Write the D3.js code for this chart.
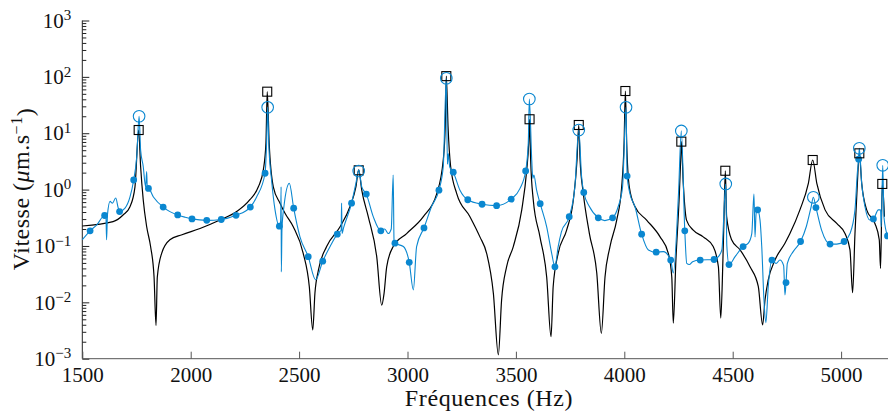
<!DOCTYPE html>
<html><head><meta charset="utf-8">
<script src="https://cdn.jsdelivr.net/npm/d3@7/dist/d3.min.js"></script>
<style>
html,body{margin:0;padding:0;background:#fff;}
svg{display:block;}
</style></head>
<body>
<svg id="chart" width="888" height="414" font-family="Liberation Serif"></svg>
<script>
// ---- Model (black) curve ----
const modelFreq = [1500,1642,1688,1720,1743,1760,1769,1781,1797,1815,1831,1840,1846,1866,1904,1960,2043,2135,2212,2273,2312,2335,2347,2353,2362,2381,2412,2435,2473,2519,2547,2563,2573,2589,2627,2689,2735,2762,2775,2789,2819,2858,2881,2892,2904,2934,2996,3073,3135,3165,3174,3179,3187,3199,3227,3288,3334,3365,3396,3419,3434,3457,3488,3527,3550,3559,3563,3568,3580,3611,3642,3662,3672,3695,3734,3765,3782,3790,3796,3811,3839,3873,3894,3911,3934,3965,3988,3999,4005,4011,4023,4049,4103,4165,4203,4219,4226,4238,4254,4260,4263,4272,4287,4318,4364,4410,4434,4445,4454,4460,4466,4472,4495,4534,4580,4618,4638,4649,4664,4695,4741,4764,4810,4849,4869,4888,4926,4980,5018,5041,5053,5064,5075,5084,5095,5118,5156,5176,5182,5190,5200];
const modelVal = [0.226,0.270,0.354,0.498,1.12,11.4,2.57,0.661,0.219,0.0977,0.0282,0.00389,0.0282,0.0741,0.129,0.158,0.204,0.288,0.407,0.661,1.12,2.24,6.61,54.6,6.61,1.12,0.575,0.380,0.219,0.0741,0.0191,0.00324,0.0145,0.0372,0.0977,0.219,0.501,1.12,2.24,0.977,0.331,0.0646,0.00891,0.0145,0.0427,0.0977,0.166,0.331,0.851,3.39,13.2,103,13.2,2.57,0.851,0.331,0.145,0.0741,0.0145,0.00117,0.011,0.0427,0.0977,0.437,2.24,6.61,17.7,3.39,0.661,0.145,0.0282,0.00245,0.0191,0.0741,0.191,0.661,3.39,14.0,3.39,0.851,0.166,0.0331,0.00282,0.0282,0.0977,0.288,1.12,6.61,56.1,6.61,1.12,0.501,0.288,0.145,0.0741,0.0282,0.00427,0.0562,0.851,3.39,7.08,1.29,0.288,0.191,0.145,0.0977,0.0427,0.00525,0.0427,0.331,2.16,0.331,0.129,0.0851,0.0427,0.0191,0.00398,0.011,0.0251,0.0562,0.112,0.166,0.437,1.29,3.35,1.29,0.437,0.251,0.166,0.0851,0.0148,0.166,1.29,4.41,1.29,0.437,0.251,0.129,0.0398,1.26,0.331];

// ---- Measured (blue) curve ----
const measFreq = [1500,1536,1566,1603,1609,1612,1616,1628,1639,1654,1666,1672,1697,1720,1737,1751,1762,1769,1781,1792,1797,1800,1805,1828,1873,1904,1940,1974,2006,2074,2141,2209,2275,2304,2343,2350,2355,2360,2373,2389,2409,2415,2417,2418,2421,2430,2455,2475,2504,2542,2576,2609,2643,2676,2694,2696,2698,2705,2742,2762,2775,2789,2810,2842,2877,2895,2911,2925,2934,2938,2942,2981,3008,3027,3042,3076,3111,3145,3165,3179,3184,3188,3195,3211,3242,3278,3344,3411,3478,3519,3545,3557,3562,3573,3578,3583,3595,3612,3642,3665,3680,3695,3710,3746,3772,3790,3803,3813,3839,3880,3910,3946,3972,3992,4008,4013,4026,4049,4080,4111,4147,4180,4214,4226,4250,4263,4279,4288,4300,4315,4350,4414,4434,4450,4468,4473,4483,4511,4548,4572,4588,4598,4603,4608,4615,4626,4634,4644,4653,4664,4681,4700,4718,4735,4741,4746,4752,4779,4813,4840,4862,4872,4884,4910,4949,4980,5014,5041,5064,5075,5081,5084,5095,5110,5133,5149,5172,5182,5185,5192,5198,5214];
const measVal = [0.129,0.186,0.234,0.347,0.339,0.129,0.355,0.617,0.575,0.708,0.468,0.407,0.468,0.741,1.48,3.80,20.0,5.01,2.57,1.12,2.09,1.0,1.05,0.741,0.49,0.407,0.355,0.324,0.302,0.285,0.295,0.35,0.49,0.741,1.95,6.61,28.8,6.61,1.48,0.437,0.224,0.282,1.12,0.0347,0.2,0.501,1.29,0.468,0.145,0.0646,0.0251,0.0537,0.0977,0.162,0.191,0.575,0.166,0.209,0.575,1.29,2.24,1.12,0.832,0.331,0.186,0.2,0.166,0.2,1.82,0.12,0.112,0.0977,0.0513,0.0166,0.0977,0.209,0.501,0.977,2.57,94.4,2.82,4.37,2.51,2.04,0.977,0.661,0.55,0.519,0.676,1.05,2.14,6.61,40.5,3.39,1.58,1.82,1.0,0.562,0.219,0.0741,0.0427,0.0977,0.178,0.331,1.12,11.4,1.70,0.891,0.501,0.316,0.282,0.316,0.501,1.12,28.8,1.74,0.851,0.501,0.162,0.0851,0.0776,0.0794,0.0562,0.0331,0.851,11.0,0.186,0.049,0.0468,0.0525,0.0562,0.0575,0.0646,0.0851,1.26,0.1,0.0468,0.0646,0.0977,0.112,0.166,0.832,0.145,0.38,0.437,0.288,0.0977,0.0115,0.00437,0.0191,0.0562,0.049,0.0562,0.0447,0.0135,0.0224,0.049,0.0794,0.120,0.224,0.501,0.73,0.479,0.191,0.108,0.108,0.120,0.166,0.437,2.0,3.47,5.4,1.29,0.501,0.288,0.302,0.437,0.437,0.219,2.7,0.316,0.151];

// ---- Measured markers (filled dots) ----
const dotFreq = [1536,1603,1672,1737,1805,1873,1940,2006,2074,2141,2209,2275,2343,2409,2475,2542,2609,2676,2742,2810,2877,2942,3008,3076,3145,3211,3278,3344,3411,3478,3545,3612,3680,3746,3813,3880,3946,4013,4080,4147,4214,4279,4350,4414,4483,4548,4615,4681,4746,4813,4884,4949,5014,5081,5149,5214];
const dotVal = [0.186,0.347,0.407,1.48,1.05,0.49,0.355,0.302,0.285,0.295,0.35,0.49,1.95,0.224,0.468,0.0646,0.0537,0.162,0.575,0.832,0.186,0.112,0.0513,0.209,0.977,2.04,0.661,0.55,0.519,0.676,2.14,0.562,0.0427,0.331,0.891,0.316,0.316,1.74,0.162,0.0776,0.0562,0.186,0.0562,0.0575,0.0468,0.0977,0.437,0.0562,0.0224,0.120,0.479,0.108,0.120,3.47,0.302,0.151];

// ---- Resonance peaks ----
const peakModelFreq = [1760,2353,2775,3179,3563,3790,4005,4263,4466,4869,5084,5190];
const peakModelVal  = [11.4,54.6,2.2,103,17.7,14.0,56.1,7.1,2.16,3.35,4.4,1.26];
const peakMeasFreq  = [1762,2355,2775,3179,3562,3790,4008,4263,4468,4872,5084,5192];
const peakMeasVal   = [20.0,28.8,2.14,94.4,40.5,11.4,28.8,11.0,1.26,0.73,5.4,2.7];

// ---- Ticks ----
const xTickValues = [1500,2000,2500,3000,3500,4000,4500,5000];
const xTickLabels = ["1500","2000","2500","3000","3500","4000","4500","5000"];
const yTickValues = [1e-3,1e-2,1e-1,1e0,1e1,1e2,1e3];
const yTickExps = ["\u22123","\u22122","\u22121","0","1","2","3"];

const FONT = "Liberation Serif";
const svg = d3.select("#chart");
const x = d3.scaleLinear().domain([1500, 5250]).range([82.3, 895.3]);
const y = d3.scaleLog().domain([1e-3, 1e3]).range([358.7, 20.5]);

const blue = "#0a87d0";

// minor y ticks
const minorY = [];
for (let e = -3; e < 3; e++) for (let m = 2; m <= 9; m++) minorY.push(m * Math.pow(10, e));

const gyMinor = svg.append("g").attr("transform", "translate(82.3,0)")
  .call(d3.axisLeft(y).tickValues(minorY).tickSize(-4).tickFormat(""));
gyMinor.select(".domain").remove();
gyMinor.selectAll("line").attr("stroke", "#222");

const gy = svg.append("g").attr("transform", "translate(82.3,0)")
  .call(d3.axisLeft(y).tickValues(yTickValues).tickSize(-7).tickPadding(11).tickFormat(() => ""));
gy.attr("font-family", FONT).attr("font-size", 21);
gy.select(".domain").attr("stroke", "#222").attr("d", "M0," + y(1e-3) + "V" + y(1e3));
gy.selectAll("line").attr("stroke", "#222");
gy.selectAll(".tick text").each(function(d, i) {
  const t = d3.select(this).attr("font-size", 21).attr("font-family", FONT).attr("fill", "#111");
  t.append("tspan").text("10");
  t.append("tspan").attr("dy", "-0.5em").attr("font-size", 15).text(yTickExps[i]);
});

const gx = svg.append("g").attr("transform", "translate(0," + y(1e-3) + ")")
  .call(d3.axisBottom(x).tickValues(xTickValues).tickSize(-7).tickPadding(8).tickFormat((d, i) => xTickLabels[i]));
gx.attr("font-family", FONT).attr("font-size", 21);
gx.select(".domain").attr("stroke", "#555").attr("d", "M82.3,0H888");
gx.selectAll("line").attr("stroke", "#555");
gx.selectAll("text").attr("font-size", 21).attr("font-family", FONT).attr("fill", "#111");

// curves
const line = d3.line().curve(d3.curveMonotoneX).x(d => x(d[0])).y(d => y(d[1]));
const modelPts = modelFreq.map((f, i) => [f, modelVal[i]]);
const measPts = measFreq.map((f, i) => [f, measVal[i]]);

svg.append("path").attr("d", line(modelPts)).attr("fill", "none")
  .attr("stroke", "#000").attr("stroke-width", 1.2).attr("stroke-linejoin", "round");
svg.append("path").attr("d", line(measPts)).attr("fill", "none")
  .attr("stroke", blue).attr("stroke-width", 1.1).attr("stroke-linejoin", "round");

svg.append("g").selectAll("circle").data(dotFreq.map((f, i) => [f, dotVal[i]])).join("circle")
  .attr("cx", d => x(d[0])).attr("cy", d => y(d[1])).attr("r", 3.4).attr("fill", blue);

svg.append("g").selectAll("rect").data(peakModelFreq.map((f, i) => [f, peakModelVal[i]])).join("rect")
  .attr("x", d => x(d[0]) - 4.5).attr("y", d => y(d[1]) - 4.5).attr("width", 9).attr("height", 9)
  .attr("fill", "none").attr("stroke", "#000").attr("stroke-width", 1.1);

svg.append("g").selectAll("circle").data(peakMeasFreq.map((f, i) => [f, peakMeasVal[i]])).join("circle")
  .attr("cx", d => x(d[0])).attr("cy", d => y(d[1])).attr("r", 5.8)
  .attr("fill", "none").attr("stroke", blue).attr("stroke-width", 1.1);

// axis titles
svg.append("text").attr("x", 489).attr("y", 406).attr("text-anchor", "middle")
  .attr("font-family", FONT).attr("font-size", 24).attr("letter-spacing", 0.6).attr("fill", "#111").text("Fréquences (Hz)");

const yl = svg.append("text").attr("transform", "translate(29,189) rotate(-90)")
  .attr("text-anchor", "middle").attr("font-family", FONT).attr("font-size", 24).attr("letter-spacing", 0.5).attr("fill", "#111");
yl.append("tspan").text("Vitesse (");
yl.append("tspan").attr("font-style", "italic").text("\u03bc");
yl.append("tspan").text("m.s");
yl.append("tspan").attr("dy", "-0.45em").attr("font-size", 16).text("\u22121");
yl.append("tspan").attr("dy", "0.45em").text(")");
</script>
</body></html>
